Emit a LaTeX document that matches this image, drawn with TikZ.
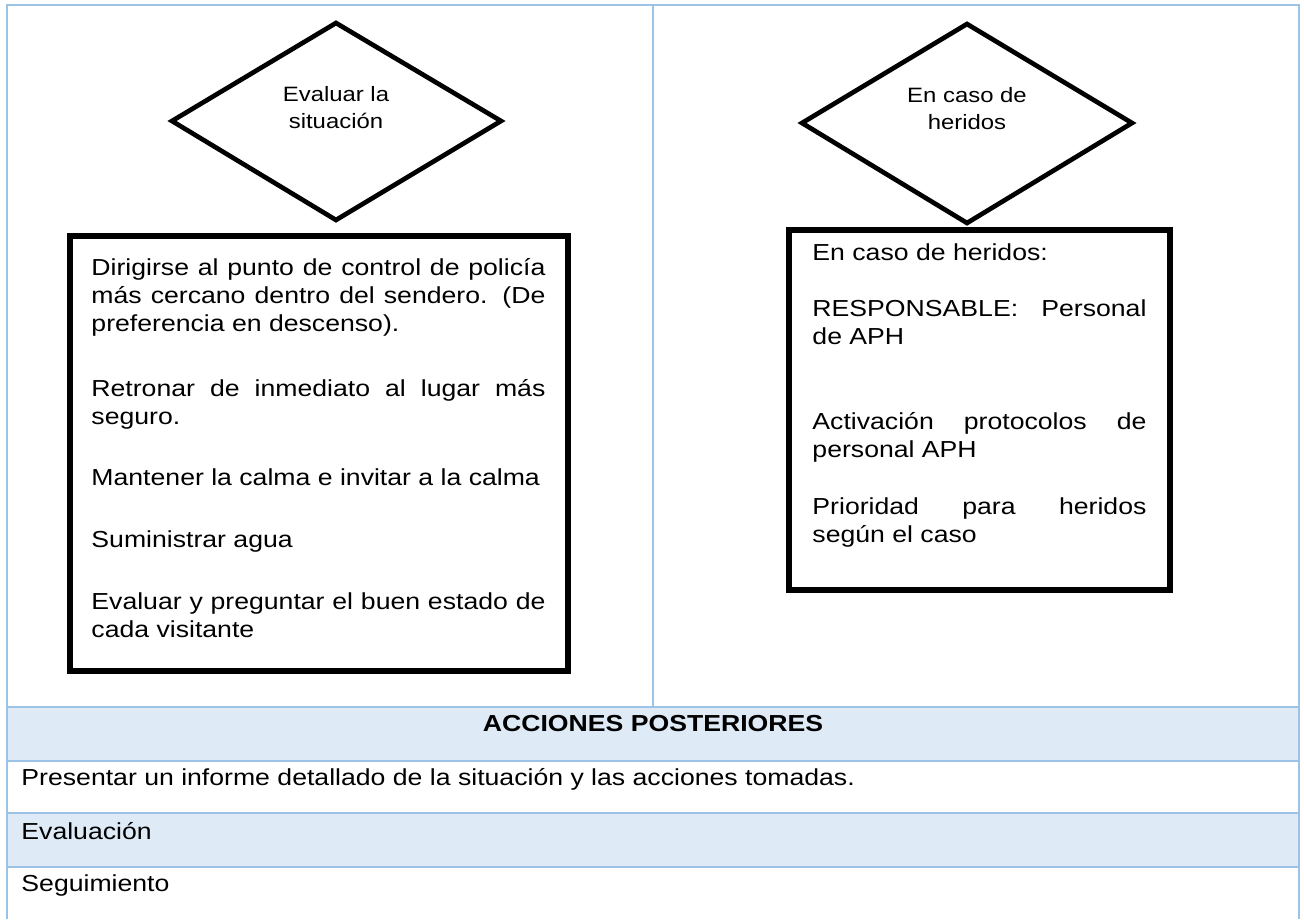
\documentclass[tikz,border=0pt]{standalone}
\usepackage{fontspec}
\newfontfamily\docfont{Liberation Sans}[FakeStretch=1.15]
\definecolor{tblue}{RGB}{156,194,229}
\definecolor{tfill}{RGB}{222,234,246}
\newcommand\jline[1]{\hbox to\hsize{#1}}
\newcommand\rline[1]{\hbox{#1}}
\begin{document}
\begin{tikzpicture}[x=0.45pt, y=-0.45pt,
  tline/.style={draw=tblue, line width=0.9pt},
  boxline/.style={draw=black, line width=2.3pt},
  diamline/.style={draw=black, line width=2.1pt, line join=miter},
  bodytext/.style={font={\docfont\fontsize{10.42pt}{12.6pt}\selectfont}, inner sep=0pt},
  diamtext/.style={font={\docfont\fontsize{9.35pt}{12.15pt}\selectfont}, align=center, inner sep=0pt}]
\useasboundingbox (0,0) rectangle (1304,919);
\fill[white] (0,0) rectangle (1304,919);
% table fills
\fill[tfill] (7,707) rectangle (1299,761);
\fill[tfill] (7,813) rectangle (1299,867);
% table lines
\draw[tline] (7,919) -- (7,5) -- (1299,5) -- (1299,919);
\draw[tline] (653,5) -- (653,707);
\draw[tline] (7,707) -- (1299,707);
\draw[tline] (7,761) -- (1299,761);
\draw[tline] (7,813) -- (1299,813);
\draw[tline] (7,867) -- (1299,867);
% left diamond
\coordinate (dlw) at (172,121);
\coordinate (dln) at (336,23);
\coordinate (dle) at (501,121);
\coordinate (dls) at (336,220);
\draw[diamline] (dlw) -- (dln) -- (dle) -- (dls) -- cycle;
\node[diamtext] (dltext) at (336,108) {Evaluar la\\situación};
% right diamond
\coordinate (drw) at (802,123);
\coordinate (drn) at (967,24);
\coordinate (dre) at (1132,123);
\coordinate (drs) at (967,223);
\draw[diamline] (drw) -- (drn) -- (dre) -- (drs) -- cycle;
\node[diamtext] (drtext) at (967,109) {En caso de\\heridos};
% left box
\draw[boxline] (70,236) rectangle (568,671);
\node[bodytext, anchor=north west] (ltext) at (91,253) {\vbox{\hsize=204.3pt
\jline{\rule{0pt}{10pt}Dirigirse al punto de control de policía}
\jline{más cercano dentro del sendero. (De}
\rline{preferencia en descenso).}
\vskip16.65pt
\jline{Retronar de inmediato al lugar más}
\rline{seguro.}
\vskip14.85pt
\rline{Mantener la calma e invitar a la calma}
\vskip15.3pt
\rline{Suministrar agua}
\vskip15.3pt
\jline{Evaluar y preguntar el buen estado de}
\rline{cada visitante}}};
% right box
\draw[boxline] (789,230) rectangle (1170,590);
\node[bodytext, anchor=north west] (rtext) at (812,238) {\vbox{\hsize=150.3pt
\rline{\rule{0pt}{10pt}En caso de heridos:}
\vskip12.6pt
\jline{RESPONSABLE: Personal}
\rline{de APH}
\vskip25.65pt
\jline{Activación protocolos de}
\rline{personal APH}
\vskip13.05pt
\jline{Prioridad para heridos}
\rline{según el caso}}};
% bottom rows
\node[bodytext, font={\docfont\bfseries\fontsize{10.42pt}{12.6pt}\selectfont}, anchor=base] (head) at (653,731) {ACCIONES POSTERIORES};
\node[bodytext, anchor=base west] (row1) at (21,785) {Presentar un informe detallado de la situación y las acciones tomadas.};
\node[bodytext, anchor=base west] (row2) at (21,839) {Evaluación};
\node[bodytext, anchor=base west] (row3) at (21,891) {Seguimiento};
\end{tikzpicture}
\end{document}
